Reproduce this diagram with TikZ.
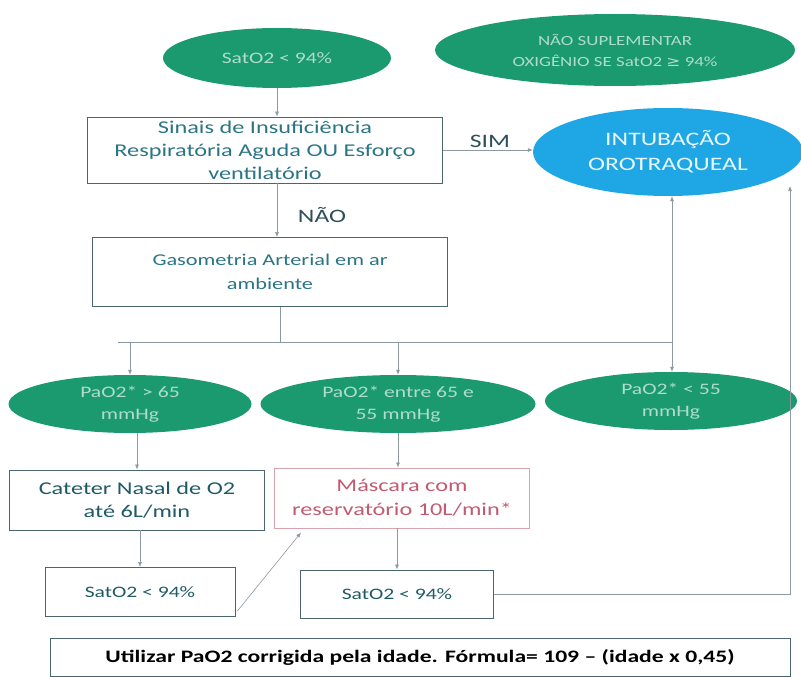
\documentclass[tikz,border=0pt]{standalone}
\usepackage{fontspec}
\setmainfont{Carlito}[FakeStretch=1.35]
\newfontfamily\dejavu{DejaVu Sans}[FakeStretch=1.2]
\usetikzlibrary{shapes.geometric,arrows.meta}
\definecolor{gfill}{HTML}{1A9A6E}
\definecolor{bfill}{HTML}{1EA7E4}
\definecolor{tealtxt}{HTML}{2A7585}
\definecolor{darktxt}{HTML}{1F5A66}
\definecolor{boxline}{HTML}{4A6570}
\definecolor{pinkline}{HTML}{D8A3AC}
\definecolor{pinktxt}{HTML}{C25A72}
\definecolor{linegray}{HTML}{8A9AA0}
\definecolor{lbltxt}{HTML}{2D4F5A}
\begin{document}
\begin{tikzpicture}[x=1pt,y=-1pt,
  gell/.style={ellipse, fill=gfill, draw=none, text=white!65!gfill, font=\fontsize{16}{22}\selectfont, align=center, inner sep=0pt},
  bell/.style={ellipse, fill=bfill, draw=none, text=white!90!bfill, font=\fontsize{19}{25}\selectfont, align=center, inner sep=0pt},
  bbox/.style={draw=boxline, line width=0.9pt, align=center, text=tealtxt, font=\fontsize{18}{23}\selectfont, inner sep=0pt},
  pbox/.style={draw=pinkline, line width=0.9pt, align=center, text=pinktxt, font=\fontsize{18}{24}\selectfont, inner sep=0pt},
  conn/.style={draw=linegray, line width=0.6pt, -{Latex[length=5pt,width=4pt]}},
  plainline/.style={draw=linegray, line width=0.6pt},
  lbl/.style={text=lbltxt, font=\fontsize{19}{22}\selectfont}
]
\useasboundingbox (0,0) rectangle (801,677);

% top ellipses
\node[gell, minimum width=228pt, minimum height=60pt] (e1) at (277,58) {SatO2 < 94\%};
\node[gell, font=\fontsize{14}{21}\selectfont, minimum width=360pt, minimum height=72pt] (e2) at (615,50) {NÃO SUPLEMENTAR\\OXIGÊNIO SE SatO2 {\dejavu ≥} 94\%};

% first decision box
\node[bbox, minimum width=355pt, minimum height=66pt] (s1) at (265,150) {Sinais de Insuficiência\\Respiratória Aguda OU Esforço\\ventilatório};
\node[bell, minimum width=270pt, minimum height=88pt] (intub) at (668,152) {INTUBAÇÃO\\OROTRAQUEAL};

% gasometria
\node[bbox, font=\fontsize{16.5}{24}\selectfont, minimum width=355pt, minimum height=69pt] (gas) at (270,272) {Gasometria Arterial em ar\\ambiente};

% PaO2 ellipses
\node[gell, minimum width=243pt, minimum height=58pt] (e3) at (130,404) {PaO2* > 65\\mmHg};
\node[gell, minimum width=275pt, minimum height=58pt] (e4) at (398,404) {PaO2* entre 65 e\\55 mmHg};
\node[gell, minimum width=252pt, minimum height=58pt] (e5) at (671,401) {PaO2* < 55\\mmHg};

% treatment boxes
\node[bbox, text=darktxt, minimum width=255pt, minimum height=60pt] (cat) at (137,500) {Cateter Nasal de O2\\até 6L/min};
\node[pbox, minimum width=255pt, minimum height=60pt] (mask) at (402,498) {Máscara com\\reservatório 10L/min*};

% SatO2 boxes
\node[bbox, font=\fontsize{16}{20}\selectfont, text=darktxt, minimum width=190pt, minimum height=49pt] (sat1) at (140,592) {SatO2 < 94\%};
\node[bbox, font=\fontsize{16}{20}\selectfont, text=darktxt, minimum width=193pt, minimum height=48pt] (sat2) at (397,594) {SatO2 < 94\%};

% footnote
\node[draw=boxline, line width=0.9pt, minimum width=740pt, minimum height=38pt, inner sep=0pt, text=black, font=\fontsize{17.5}{21}\selectfont\bfseries] (foot) at (420,657) {Utilizar PaO2 corrigida pela idade. Fórmula= 109 – (idade x 0,45)};

% labels
\node[lbl] (sim) at (490,141) {SIM};
\node[lbl] (nao) at (322,215) {NÃO};

% coordinates
\coordinate (cx) at (277,0);
\coordinate (gx) at (280,0);
\coordinate (barL) at (118,342);
\coordinate (barR) at (672,342);
\coordinate (rc) at (790,186);

% connectors
\draw[conn] (e1.south) -- (e1.south |- s1.north);
\draw[conn] (s1.east) -- (s1.east -| intub.west);
\draw[conn] (cx |- s1.south) -- (cx |- gas.north);
\draw[plainline] (gx |- gas.south) -- (gx |- barL);
\draw[plainline] (barL) -- (barR);
\draw[conn] (e3.north |- barL) -- (e3.north);
\draw[conn] (e4.north |- barL) -- (e4.north);
\draw[conn] (barR) -- (barR |- e5.north);
\draw[conn] (barR) -- (barR |- intub.south);
\draw[conn] (e3.south -| cat.north) -- (cat.north);
\draw[conn] (e4.south) -- (e4.south |- mask.north);
\draw[conn] (sat1.north |- cat.south) -- (sat1.north);
\draw[conn] (sat2.north |- mask.south) -- (sat2.north);
\draw[conn] ([shift={(2,-6)}]sat1.south east) -- ([shift={(27,4)}]mask.south west);
\draw[conn] (sat2.east) -| (rc);
\end{tikzpicture}
\end{document}
